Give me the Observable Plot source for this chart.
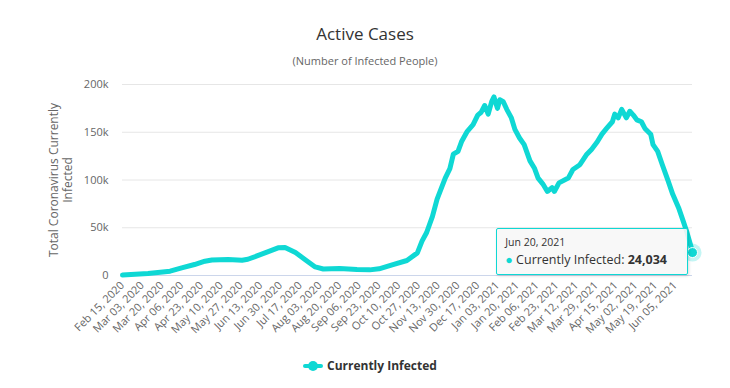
<!DOCTYPE html>
<html>
<head>
<meta charset="utf-8">
<script src="https://cdn.jsdelivr.net/npm/d3@7"></script>
<script src="https://cdn.jsdelivr.net/npm/@observablehq/plot@0.6"></script>
<style>
  html, body { margin: 0; padding: 0; background: #fff; }
  #wrap { position: relative; width: 730px; height: 388px; font-family: "Open Sans", sans-serif; overflow: hidden; }
  #wrap svg { position: absolute; left: 0; top: 0; }
  .title { position: absolute; left: 0; width: 730px; text-align: center; top: 22px; font-size: 17px; color: #333; }
  .subtitle { position: absolute; left: 0; width: 730px; text-align: center; top: 53px; font-size: 11px; color: #666; }
  .legend { position: absolute; top: 357px; left: 303px; font-size: 12px; font-weight: bold; color: #333; display: flex; align-items: center; }
  .legend .sym { position: relative; width: 20px; height: 16px; margin-right: 4px; }
  .legend .sym .ln { position: absolute; left: 0; top: 6px; width: 20px; height: 4px; border-radius: 2px; }
  .legend .sym .dt { position: absolute; left: 5px; top: 3px; width: 10px; height: 10px; border-radius: 50%; }
  .tip { position: absolute; background: rgba(247,247,247,0.9); border: 1px solid; border-radius: 2px; padding: 6px 20px 5px 8px; box-shadow: 1px 1px 3px rgba(0,0,0,0.15); white-space: nowrap; color: #333; }
  .tip .d { font-size: 10.5px; line-height: 15px; }
  .tip .v { font-size: 12.5px; line-height: 19px; }
  .tip .v b { font-weight: bold; }
</style>
</head>
<body>
<div id="wrap"></div>
<script>
const titleText = "Active Cases";
const subtitleText = "(Number of Infected People)";
const yLabel = "Total Coronavirus Currently\nInfected";
const seriesName = "Currently Infected";
const color = "#0fd8d4";

const dates = [
  "2020-02-15","2020-03-08","2020-03-27","2020-04-06","2020-04-17","2020-04-26","2020-05-02","2020-05-16",
  "2020-05-28","2020-06-02","2020-06-11","2020-06-19","2020-06-28","2020-07-04","2020-07-13","2020-07-22",
  "2020-07-30","2020-08-06","2020-08-20","2020-09-04","2020-09-15","2020-09-23","2020-10-05","2020-10-17",
  "2020-10-26","2020-10-30","2020-11-03","2020-11-08","2020-11-12","2020-11-19","2020-11-23","2020-11-26",
  "2020-11-30","2020-12-03","2020-12-08","2020-12-13","2020-12-17","2020-12-20","2020-12-23","2020-12-26",
  "2020-12-29","2020-12-31","2021-01-03","2021-01-05","2021-01-08","2021-01-11","2021-01-15","2021-01-18",
  "2021-01-22","2021-01-26","2021-01-31","2021-02-04","2021-02-07","2021-02-11","2021-02-15","2021-02-19",
  "2021-02-21","2021-02-25","2021-03-05","2021-03-09","2021-03-15","2021-03-21","2021-03-25","2021-03-30",
  "2021-04-03","2021-04-07","2021-04-12","2021-04-14","2021-04-17","2021-04-20","2021-04-24","2021-04-27",
  "2021-04-30","2021-05-03","2021-05-07","2021-05-10","2021-05-15","2021-05-17","2021-05-21","2021-05-25",
  "2021-05-30","2021-06-03","2021-06-08","2021-06-12","2021-06-15","2021-06-19","2021-06-20"
];
const values = [
  500, 2000, 4500, 8000, 11500, 15000, 16300, 16700,
  16000, 17000, 21000, 24700, 29000, 29300, 24000, 16000,
  9000, 6800, 7300, 6300, 5900, 7000, 11500, 15700,
  23700, 36000, 45000, 62000, 80000, 102000, 112000, 127000,
  130000, 140000, 151000, 158000, 168000, 171000, 178000, 169000,
  182000, 187000, 175000, 184000, 182000, 174000, 165000, 153000,
  144000, 137000, 120000, 112000, 102000, 96000, 88000, 92000,
  88000, 97000, 102000, 111000, 116000, 127000, 132000, 140000,
  148000, 154000, 161000, 169000, 165000, 174000, 165000, 172000,
  168000, 163000, 161000, 154000, 148000, 137000, 130000, 116000,
  99000, 85000, 71000, 57000, 46000, 29000, 24034
];
const xTickDates = [
  "2020-02-15","2020-03-03","2020-03-20","2020-04-06","2020-04-23","2020-05-10","2020-05-27","2020-06-13",
  "2020-06-30","2020-07-17","2020-08-03","2020-08-20","2020-09-06","2020-09-23","2020-10-10","2020-10-27",
  "2020-11-13","2020-11-30","2020-12-17","2021-01-03","2021-01-20","2021-02-06","2021-02-23","2021-03-12",
  "2021-03-29","2021-04-15","2021-05-02","2021-05-19","2021-06-05"
];
const yTicks = [0, 50000, 100000, 150000, 200000];

const data = dates.map((d, i) => ({date: new Date(d + "T00:00:00Z"), value: values[i]}));
const last = data[data.length - 1];
const xTicks = xTickDates.map(d => new Date(d + "T00:00:00Z"));
const fmtDate = d3.utcFormat("%b %d, %Y");

const chart = Plot.plot({
  width: 730,
  height: 388,
  marginTop: 84,
  marginBottom: 113,
  marginLeft: 122,
  marginRight: 38,
  style: {fontFamily: "Open Sans, sans-serif", background: "transparent", overflow: "visible"},
  x: {type: "utc", domain: [data[0].date, last.date]},
  y: {domain: [0, 200000]},
  marks: [
    Plot.gridY(yTicks, {stroke: "#e6e6e6", strokeOpacity: 1}),
    Plot.ruleY([0], {stroke: "#ccd6eb", strokeWidth: 1}),
    Plot.axisY(yTicks, {tickSize: 0, tickPadding: 14, fontSize: 11, fill: "#666", label: null,
      tickFormat: d => d === 0 ? "0" : (d / 1000) + "k"}),
    Plot.axisX(xTicks, {tickSize: 0, tickPadding: 8, tickRotate: -45, fontSize: 11, fill: "#666", label: null,
      tickFormat: fmtDate}),
    Plot.text([yLabel], {frameAnchor: "left", dx: -62, rotate: -90, fontSize: 12, fill: "#666", lineHeight: 1.2, textAnchor: "middle", lineAnchor: "middle"}),
    Plot.line(data, {x: "date", y: "value", stroke: color, strokeWidth: 5, strokeLinejoin: "round", strokeLinecap: "round"}),
    Plot.dot([last], {x: "date", y: "value", r: 9, fill: color, fillOpacity: 0.25, stroke: "none"}),
    Plot.dot([last], {x: "date", y: "value", r: 5, fill: color, stroke: "#fff", strokeWidth: 1})
  ]
});

const wrap = document.getElementById("wrap");
wrap.appendChild(chart);

const t = document.createElement("div"); t.className = "title"; t.textContent = titleText; wrap.appendChild(t);
const s = document.createElement("div"); s.className = "subtitle"; s.textContent = subtitleText; wrap.appendChild(s);

const lg = document.createElement("div"); lg.className = "legend";
lg.innerHTML = `<span class="sym"><span class="ln" style="background:${color}"></span><span class="dt" style="background:${color}"></span></span><span>${seriesName}</span>`;
wrap.appendChild(lg);

// tooltip anchored to the last point via the plot's scales
const px = chart.scale("x").apply(last.date);
const py = chart.scale("y").apply(last.value);
const tip = document.createElement("div"); tip.className = "tip";
tip.style.borderColor = color;
tip.innerHTML = `<div class="d">${fmtDate(last.date)}</div><div class="v"><span style="color:${color}">●</span> ${seriesName}: <b>${d3.format(",")(last.value)}</b></div>`;
wrap.appendChild(tip);
const r = tip.getBoundingClientRect();
tip.style.left = (px - 4 - r.width) + "px";
tip.style.top = (py - r.height / 2 - 1) + "px";
</script>
</body>
</html>
